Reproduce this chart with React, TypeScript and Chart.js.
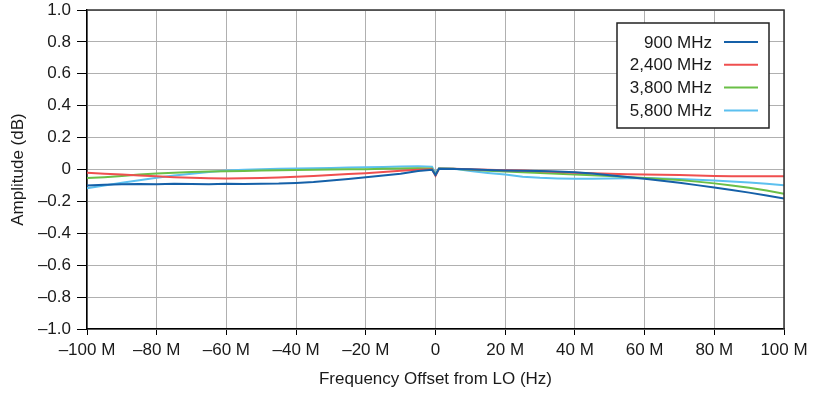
import { useEffect, useRef } from "react";
import { Chart, registerables } from "chart.js";

Chart.register(...registerables);

// Frequency offset from LO, in MHz
const offsetsMHz = [
  -100, -95, -90, -85, -80, -75, -70, -65, -60, -55, -50, -45, -40, -35, -30, -25, -20, -15, -10, -5,
  -1, 0, 1,
  5, 10, 15, 20, 25, 30, 35, 40, 45, 50, 55, 60, 65, 70, 75, 80, 85, 90, 95, 100,
];

const amp900 = [
  -0.100, -0.095, -0.093, -0.091, -0.092, -0.090, -0.091, -0.092, -0.090, -0.091, -0.089, -0.088, -0.084, -0.078, -0.069, -0.059, -0.048, -0.038, -0.026, -0.010,
  -0.002, -0.035, 0.004,
  0.003, 0.001, -0.003, -0.006, -0.008, -0.010, -0.013, -0.017, -0.025, -0.036, -0.047, -0.058, -0.070, -0.083, -0.098, -0.113, -0.128, -0.145, -0.163, -0.182,
];

const amp2400 = [
  -0.021, -0.026, -0.032, -0.038, -0.043, -0.048, -0.052, -0.055, -0.056, -0.055, -0.053, -0.050, -0.045, -0.040, -0.034, -0.028, -0.023, -0.016, -0.008, -0.002,
  0.002, -0.040, 0.004,
  0.004, 0.002, -0.001, -0.004, -0.007, -0.011, -0.016, -0.021, -0.024, -0.026, -0.029, -0.031, -0.033, -0.035, -0.038, -0.041, -0.042, -0.043, -0.043, -0.042,
];

const amp3800 = [
  -0.054, -0.048, -0.040, -0.032, -0.025, -0.020, -0.016, -0.013, -0.011, -0.009, -0.007, -0.005, -0.003, -0.001, 0.000, 0.001, 0.002, 0.004, 0.006, 0.008,
  0.006, -0.035, 0.006,
  0.004, -0.002, -0.008, -0.013, -0.018, -0.022, -0.027, -0.031, -0.036, -0.041, -0.047, -0.053, -0.059, -0.066, -0.076, -0.087, -0.100, -0.114, -0.132, -0.152,
];

const amp5800 = [
  -0.117, -0.100, -0.083, -0.068, -0.052, -0.038, -0.026, -0.015, -0.006, -0.001, 0.002, 0.004, 0.006, 0.008, 0.010, 0.012, 0.014, 0.016, 0.019, 0.021,
  0.018, -0.025, 0.008,
  0.006, -0.010, -0.022, -0.032, -0.045, -0.052, -0.056, -0.058, -0.058, -0.057, -0.055, -0.054, -0.057, -0.060, -0.064, -0.069, -0.075, -0.082, -0.090, -0.098,
];

const seriesLabels = ["900 MHz", "2,400 MHz", "3,800 MHz", "5,800 MHz"];
const seriesValues = [amp900, amp2400, amp3800, amp5800];
const seriesColors = ["#1560a8", "#ef4f4f", "#6abf47", "#5cc0ef"];

const xTitle = "Frequency Offset from LO (Hz)";
const yTitle = "Amplitude (dB)";

const FONT = "'Liberation Sans', Arial, Helvetica, sans-serif";
const DASH = "\u2013";

function fmtX(v: number): string {
  if (Math.abs(v) < 1e-9) return "0";
  return (v < 0 ? DASH + Math.abs(v) : String(v)) + " M";
}

function fmtY(v: number): string {
  if (Math.abs(v) < 1e-9) return "0";
  const s = Math.abs(v).toFixed(1);
  return v < 0 ? DASH + s : s;
}

const framePlugin = {
  id: "frameAndLegend",
  afterDatasetsDraw(chart: any) {
    const { ctx, chartArea: a } = chart;
    ctx.save();
    // top & right frame
    ctx.strokeStyle = "#333";
    ctx.lineWidth = 1.5;
    ctx.beginPath();
    ctx.moveTo(a.left, a.top);
    ctx.lineTo(a.right, a.top);
    ctx.lineTo(a.right, a.bottom);
    ctx.stroke();

    // legend box
    const bw = 152;
    const bh = 105;
    const bx = a.right - 15 - bw;
    const by = a.top + 13;
    ctx.fillStyle = "#fff";
    ctx.fillRect(bx, by, bw, bh);
    ctx.strokeStyle = "#222";
    ctx.lineWidth = 1.5;
    ctx.strokeRect(bx, by, bw, bh);

    ctx.font = "17px " + FONT;
    ctx.textAlign = "right";
    ctx.textBaseline = "middle";
    seriesLabels.forEach((label, i) => {
      const y = by + 19 + i * 22.8;
      ctx.fillStyle = "#1a1a1a";
      ctx.fillText(label, bx + 95, y + 1);
      ctx.strokeStyle = seriesColors[i];
      ctx.lineWidth = 2;
      ctx.beginPath();
      ctx.moveTo(bx + 107, y);
      ctx.lineTo(bx + 141, y);
      ctx.stroke();
    });
    ctx.restore();
  },
};

export default function App() {
  const ref = useRef<HTMLCanvasElement | null>(null);

  useEffect(() => {
    if (!ref.current) return;
    const chart = new Chart(ref.current, {
      type: "line",
      data: {
        datasets: seriesLabels.map((label, i) => ({
          label,
          data: offsetsMHz.map((x, j) => ({ x, y: seriesValues[i][j] })),
          borderColor: seriesColors[i],
          backgroundColor: seriesColors[i],
          borderWidth: 2,
          pointRadius: 0,
          tension: 0,
          fill: false,
        })),
      },
      options: {
        animation: false,
        responsive: false,
        devicePixelRatio: 1,
        layout: { autoPadding: false, padding: { top: 10, right: 29, left: 0, bottom: 0 } },
        plugins: { legend: { display: false }, tooltip: { enabled: false } },
        font: { family: FONT },
        scales: {
          x: {
            type: "linear",
            min: -100,
            max: 100,
            afterFit: (s: any) => {
              s.height = 64;
              s.paddingLeft = 0;
              s.paddingRight = 0;
            },
            ticks: {
              stepSize: 20,
              callback: (v: any) => fmtX(Number(v)),
              font: { family: FONT, size: 17 },
              color: "#1a1a1a",
              padding: 5,
              maxRotation: 0,
            },
            grid: { color: "#b0b0b0", lineWidth: 1, tickColor: "#000", tickLength: 6 },
            border: { color: "#000", width: 1.5 },
            title: {
              display: true,
              text: xTitle,
              font: { family: FONT, size: 17 },
              color: "#1a1a1a",
              padding: { top: 0, bottom: 3 },
            },
          },
          y: {
            type: "linear",
            min: -1,
            max: 1,
            afterFit: (s: any) => {
              s.width = 87;
              s.paddingTop = 0;
              s.paddingBottom = 0;
            },
            ticks: {
              stepSize: 0.2,
              callback: (v: any) => fmtY(Number(v)),
              font: { family: FONT, size: 17 },
              color: "#1a1a1a",
              padding: 6,
            },
            grid: { color: "#b0b0b0", lineWidth: 1, tickColor: "#000", tickLength: 10 },
            border: { color: "#000", width: 1.5 },
            title: {
              display: true,
              text: yTitle,
              font: { family: FONT, size: 17 },
              color: "#1a1a1a",
              padding: { top: 8, bottom: 0 },
            },
          },
        },
      },
      plugins: [framePlugin],
    } as any);
    return () => chart.destroy();
  }, []);

  return (
    <div style={{ position: "fixed", left: 0, top: 0, width: 813, height: 393, background: "#fff" }}>
      <canvas ref={ref} width={813} height={393} style={{ display: "block" }} />
    </div>
  );
}
